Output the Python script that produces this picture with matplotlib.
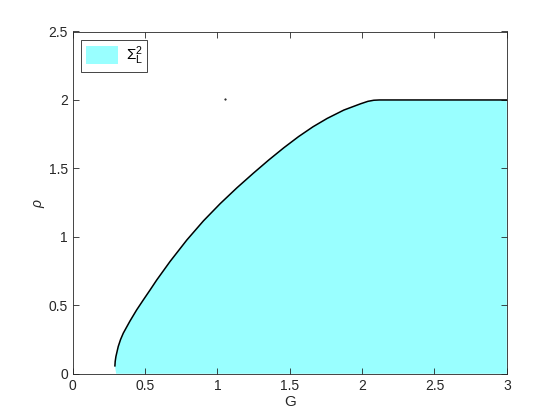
import matplotlib as mpl
import matplotlib.pyplot as plot

mpl.rcParams['font.family'] = ['Liberation Sans', 'DejaVu Sans']
mpl.rcParams['mathtext.fontset'] = 'custom'
mpl.rcParams['mathtext.rm'] = 'Liberation Sans'
mpl.rcParams['mathtext.it'] = 'Liberation Sans:italic'

# boundary of the Sigma_L^2 region
G = [0.291, 0.293, 0.298, 0.314, 0.330, 0.349, 0.395, 0.441, 0.487, 0.534,
     0.580, 0.672, 0.788, 0.903, 1.019, 1.134, 1.249, 1.355, 1.460, 1.560,
     1.660, 1.758, 1.873, 1.989, 2.040, 2.081, 2.120, 3.0]
rho = [0.058, 0.090, 0.126, 0.199, 0.250, 0.297, 0.385, 0.466, 0.539, 0.612,
       0.685, 0.820, 0.977, 1.117, 1.243, 1.358, 1.466, 1.562, 1.652, 1.732,
       1.804, 1.865, 1.926, 1.972, 1.990, 1.998, 2.000, 2.000]
G_base = 0.30
stray_pt = (1.05, 2.01)

dark = '#262626'
fig = plot.figure(figsize=(5.6, 4.2), dpi=100)
ax = fig.add_axes([0.13, 0.11, 0.775, 0.815])

ax.fill(G + [3.0, G_base], rho + [0.0, 0.0], color='#99ffff', lw=0,
        label=r'$\Sigma^2_{\mathrm{L}}$')
ax.plot(G, rho, color='black', lw=1.1)
ax.plot([stray_pt[0]], [stray_pt[1]], '.', color='black', ms=1)

ax.set_xlim(0, 3)
ax.set_ylim(0, 2.5)
ax.set_xticks([0, 0.5, 1, 1.5, 2, 2.5, 3])
ax.set_xticklabels(['0', '0.5', '1', '1.5', '2', '2.5', '3'])
ax.set_yticks([0, 0.5, 1, 1.5, 2, 2.5])
ax.set_yticklabels(['0', '0.5', '1', '1.5', '2', '2.5'])
ax.tick_params(direction='in', top=True, right=True, length=4, width=0.6,
               labelsize=10, colors=dark)
for s in ax.spines.values():
    s.set_color(dark)
    s.set_linewidth(0.6)

ax.set_xlabel('G', fontsize=11, color=dark, labelpad=2)
ax.set_ylabel(r'$\rho$', fontsize=10, color=dark, labelpad=1)

leg = ax.legend(loc='upper left', fontsize=11, fancybox=False, framealpha=1,
                edgecolor=dark, borderaxespad=0.55, handlelength=2.1,
                handleheight=1.35, handletextpad=0.5, borderpad=0.3)
leg.get_frame().set_linewidth(0.6)

plot.savefig('out.png', dpi=100)
